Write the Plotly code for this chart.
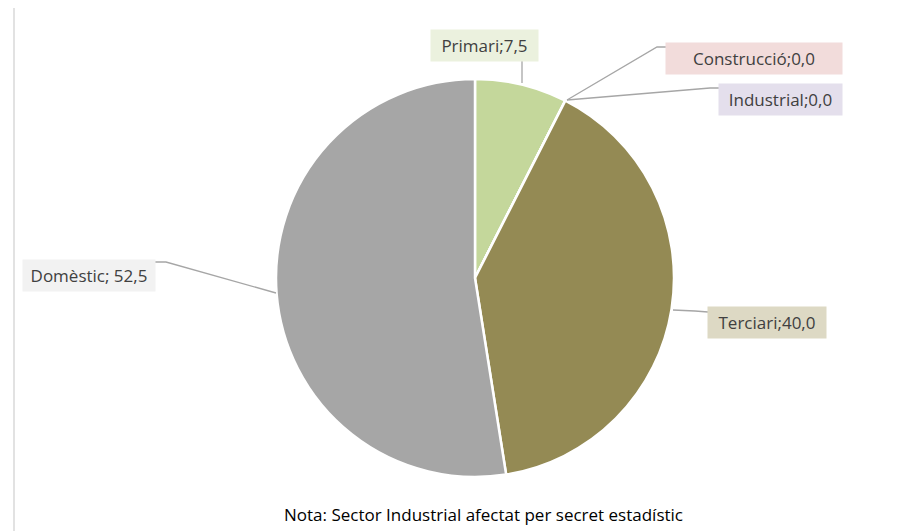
import plotly.graph_objects as go

categories = ["Primari", "Construcció", "Industrial", "Terciari", "Domèstic"]
values = [7.5, 0.0, 0.0, 40.0, 52.5]
slice_colors = ["#c4d79b", "#e6b9b8", "#ccc0da", "#948a54", "#a6a6a6"]
label_bg = ["#ebf1de", "#f2dcdb", "#e4dfec", "#ddd9c4", "#f2f2f2"]
note = "Nota: Sector Industrial afectat per secret estadístic"

OFF = 8  # page body margin
W, H = 913 - OFF, 531 - OFF
cx, cy, r = 475, 278, 199


def px(x):
    return (x - OFF) / W


def py(y):
    return 1 - (y - OFF) / H


FONT = "Open Sans, Lato, sans-serif"

fig = go.Figure()
fig.add_trace(go.Pie(
    labels=categories,
    values=values,
    sort=False,
    direction="clockwise",
    rotation=0,
    textinfo="none",
    hoverinfo="label+value",
    marker=dict(colors=slice_colors, line=dict(color="white", width=2.5)),
    domain=dict(x=[px(cx - r), px(cx + r)], y=[py(cy + r), py(cy - r)]),
    showlegend=False,
))

# label boxes: (center x, center y, box width) in pixels
label_box = [(484, 45, 107), (754, 58, 176), (780, 99, 123), (767, 322, 118), (89, 275, 132)]
PAD = 4
for cat, val, bg, (lx, ly, bw) in zip(categories, values, label_bg, label_box):
    sep = "; " if cat == "Domèstic" else ";"
    txt = f"{cat}{sep}{val:.1f}".replace(".", ",")
    fig.add_annotation(
        x=px(lx), y=py(ly), xref="paper", yref="paper",
        xanchor="center", yanchor="middle",
        text=txt, showarrow=False,
        font=dict(family=FONT, size=17, color="#404040"),
        bgcolor=bg, borderpad=PAD, width=bw - 2 * PAD, height=31 - 2 * PAD,
    )

# leader lines (pixel paths)
leaders = [
    [(522, 60), (522, 83)],
    [(666, 47), (657, 47), (567, 100)],
    [(719, 88), (710, 88), (567, 100)],
    [(708, 312), (695, 311), (673, 310)],
    [(155, 262), (166, 262), (276, 293)],
]
for pts in leaders:
    path = "M " + " L ".join(f"{px(x)},{py(y)}" for x, y in pts)
    fig.add_shape(type="path", path=path, xref="paper", yref="paper",
                  line=dict(color="#a6a6a6", width=1.3))

# left border line
fig.add_shape(type="line", x0=px(14), x1=px(14), y0=0, y1=1,
              xref="paper", yref="paper", line=dict(color="#d9d9d9", width=1.5))

fig.add_annotation(
    x=px(483), y=py(514), xref="paper", yref="paper",
    xanchor="center", yanchor="middle",
    text=note, showarrow=False,
    font=dict(family=FONT, size=17, color="#000000"),
)

fig.update_layout(
    width=W, height=H,
    margin=dict(l=0, r=0, t=0, b=0),
    paper_bgcolor="white", plot_bgcolor="white",
)

fig.write_html("out.html")
